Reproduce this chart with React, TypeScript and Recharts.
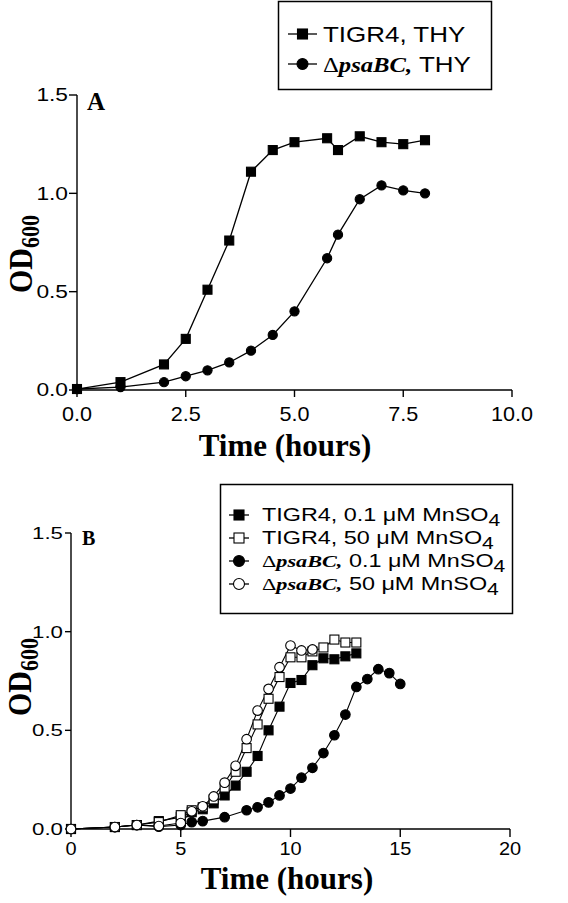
import { LineChart, Line, XAxis, YAxis } from "recharts";

// Panel A: THY medium
const hoursA = [0, 1, 2, 2.5, 3, 3.5, 4, 4.5, 5, 5.75, 6, 6.5, 7, 7.5, 8];
const tigr4Thy = [0.005, 0.04, 0.13, 0.26, 0.51, 0.76, 1.11, 1.22, 1.26, 1.28, 1.22, 1.29, 1.26, 1.25, 1.27];
const psaBCThy = [0.005, 0.015, 0.04, 0.07, 0.1, 0.14, 0.2, 0.28, 0.4, 0.67, 0.79, 0.97, 1.04, 1.015, 1.0];
const ticksAX = [0, 2.5, 5, 7.5, 10];
const ticksAY = [0, 0.5, 1, 1.5];

// Panel B: MnSO4 supplementation
const hoursTigr = [0, 2, 3, 4, 5, 5.5, 6, 6.5, 7, 7.5, 8, 8.5, 9, 9.5, 10, 10.5, 11, 11.5, 12, 12.5, 13];
const tigr4Mn01 = [0, 0.01, 0.02, 0.04, 0.06, 0.085, 0.1, 0.13, 0.17, 0.22, 0.29, 0.37, 0.5, 0.62, 0.74, 0.755, 0.83, 0.865, 0.86, 0.875, 0.89];
const tigr4Mn50 = [0, 0.01, 0.02, 0.035, 0.07, 0.095, 0.11, 0.15, 0.21, 0.29, 0.41, 0.53, 0.66, 0.77, 0.87, 0.87, 0.9, 0.92, 0.96, 0.945, 0.945];
const hoursPsa01 = [0, 2, 3, 4, 5, 5.5, 6, 7, 8, 8.5, 9, 9.5, 10, 10.5, 11, 11.5, 12, 12.5, 13, 13.5, 14, 14.5, 15];
const psaBCMn01 = [0, 0.01, 0.02, 0.012, 0.02, 0.035, 0.04, 0.06, 0.095, 0.11, 0.135, 0.17, 0.205, 0.26, 0.31, 0.385, 0.475, 0.58, 0.72, 0.76, 0.81, 0.79, 0.735];
const hoursPsa50 = [0, 2, 3, 4, 5, 5.5, 6, 6.5, 7, 7.5, 8, 8.5, 9, 9.5, 10, 10.5, 11];
const psaBCMn50 = [0, 0.01, 0.02, 0.015, 0.03, 0.09, 0.115, 0.165, 0.235, 0.32, 0.455, 0.6, 0.71, 0.82, 0.93, 0.905, 0.91];
const ticksBX = [0, 5, 10, 15, 20];
const ticksBY = [0, 0.5, 1, 1.5];

const SANS = "'Liberation Sans', Arial, sans-serif";
const SERIF = "'Liberation Serif', 'Times New Roman', serif";

const dataA = hoursA.map((t, i) => ({ t, tigr: tigr4Thy[i], psa: psaBCThy[i] }));
const toPts = (xs: number[], ys: number[]) => xs.map((t, i) => ({ t, od: ys[i] }));

const squareDot = (size: number, filled: boolean) => (p: any) => {
  if (p.cx == null || p.cy == null) return <g key={p.index} />;
  return (
    <rect
      key={p.index}
      x={p.cx - size / 2}
      y={p.cy - size / 2}
      width={size}
      height={size}
      fill={filled ? "#000" : "#fff"}
      stroke="#000"
      strokeWidth={1.1}
    />
  );
};

const circleDot = (r: number, filled: boolean) => (p: any) => {
  if (p.cx == null || p.cy == null) return <g key={p.index} />;
  return (
    <circle key={p.index} cx={p.cx} cy={p.cy} r={r} fill={filled ? "#000" : "#fff"} stroke="#000" strokeWidth={1.1} />
  );
};

const sansTick = (fontSize: number, sx: number, dy: string, digits: number) => (p: any) => (
  <text
    transform={`translate(${p.x},${p.y}) scale(${sx},1)`}
    textAnchor={p.textAnchor}
    dy={dy}
    fontSize={fontSize}
    fontFamily={SANS}
    fill="#000"
  >
    {Number(p.payload.value).toFixed(digits)}
  </text>
);

// one legend entry drawn in svg: marker on a short line, then the label
function LegendEntry({ cy, x1, x2, textX, kind, filled, size, sx, psa, rest, sub }: any) {
  const c = (x1 + x2) / 2;
  return (
    <g>
      <line x1={x1} x2={x2} y1={cy} y2={cy} stroke="#000" strokeWidth={1.3} />
      {kind === "square" ? (
        <rect x={c - 5} y={cy - 5} width={10} height={10} fill={filled ? "#000" : "#fff"} stroke="#000" strokeWidth={1.1} />
      ) : (
        <circle cx={c} cy={cy} r={5.5} fill={filled ? "#000" : "#fff"} stroke="#000" strokeWidth={1.1} />
      )}
      <text
        transform={`translate(${textX},${cy + size * 0.36}) scale(${sx},1)`}
        fontFamily={SANS}
        fontSize={size}
        fill="#000"
      >
        {psa ? (
          <>
            <tspan fontFamily={SERIF} fontSize={size * 0.95}>Δ</tspan>
            <tspan fontFamily={SERIF} fontSize={size * 0.95} fontWeight="bold" fontStyle="italic">psaBC,</tspan>
          </>
        ) : null}
        <tspan>{rest}</tspan>
        {sub ? (
          <tspan fontSize={size * 0.9} dy={5}>
            {sub}
          </tspan>
        ) : null}
      </text>
    </g>
  );
}

export default function App() {
  return (
    <div style={{ position: "absolute", left: 0, top: 0, width: 568, height: 903, background: "#fff" }}>
      {/* Panel A */}
      <div style={{ position: "absolute", left: 0, top: 0 }}>
        <LineChart width={568} height={460} data={dataA} margin={{ top: 95, right: 56, bottom: 0, left: 17 }}>
          <XAxis
            type="number"
            dataKey="t"
            domain={[0, 10]}
            ticks={ticksAX}
            height={70}
            tickSize={7}
            tickMargin={10}
            stroke="#000"
            strokeWidth={1.4}
            tick={sansTick(20, 1.08, "0.71em", 1)}
          />
          <YAxis
            type="number"
            domain={[0, 1.5]}
            ticks={ticksAY}
            width={60}
            tickSize={8}
            tickMargin={1}
            stroke="#000"
            strokeWidth={1.4}
            tick={sansTick(17.5, 1.3, "0.36em", 1)}
          />
          <Line dataKey="tigr" stroke="#000" strokeWidth={1.3} dot={squareDot(9, true)} isAnimationActive={false} />
          <Line dataKey="psa" stroke="#000" strokeWidth={1.3} dot={circleDot(4.6, true)} isAnimationActive={false} />
        </LineChart>
      </div>

      {/* Panel B */}
      <div style={{ position: "absolute", left: 0, top: 460 }}>
        <LineChart width={568} height={443} margin={{ top: 73, right: 58, bottom: 0, left: 11 }}>
          <XAxis
            type="number"
            dataKey="t"
            domain={[0, 20]}
            ticks={ticksBX}
            height={74}
            tickSize={8}
            tickMargin={4}
            stroke="#000"
            strokeWidth={1.4}
            tick={sansTick(19, 1.05, "0.71em", 0)}
            allowDuplicatedCategory={false}
          />
          <YAxis
            type="number"
            dataKey="od"
            domain={[0, 1.5]}
            ticks={ticksBY}
            width={60}
            tickSize={6}
            tickMargin={2}
            stroke="#000"
            strokeWidth={1.4}
            tick={sansTick(16.5, 1.35, "0.36em", 1)}
          />
          <Line data={toPts(hoursTigr, tigr4Mn01)} dataKey="od" stroke="#000" strokeWidth={1.1} dot={squareDot(9, true)} isAnimationActive={false} />
          <Line data={toPts(hoursPsa01, psaBCMn01)} dataKey="od" stroke="#000" strokeWidth={1.1} dot={circleDot(4.8, true)} isAnimationActive={false} />
          <Line data={toPts(hoursTigr, tigr4Mn50)} dataKey="od" stroke="#000" strokeWidth={1.1} dot={squareDot(9, false)} isAnimationActive={false} />
          <Line data={toPts(hoursPsa50, psaBCMn50)} dataKey="od" stroke="#000" strokeWidth={1.1} dot={circleDot(4.8, false)} isAnimationActive={false} />
        </LineChart>
      </div>

      {/* titles, axis labels and legends */}
      <svg width={568} height={903} style={{ position: "absolute", left: 0, top: 0, pointerEvents: "none" }}>
        <text x={87} y={110} fontFamily={SERIF} fontWeight="bold" fontSize={25} fill="#000">A</text>
        <text x={82} y={545} fontFamily={SERIF} fontWeight="bold" fontSize={20} fill="#000">B</text>
        <text x={285} y={456} textAnchor="middle" fontFamily={SERIF} fontWeight="bold" fontSize={31} fill="#000">
          Time (hours)
        </text>
        <text x={287} y={889} textAnchor="middle" fontFamily={SERIF} fontWeight="bold" fontSize={31} fill="#000">
          Time (hours)
        </text>
        <text transform="translate(32,254) rotate(-90) scale(1,1.15)" textAnchor="middle" fontFamily={SERIF} fontWeight="bold" fontSize={30} fill="#000">
          OD<tspan fontSize={22} dy={6}>600</tspan>
        </text>
        <text transform="translate(31,677) rotate(-90) scale(1,1.15)" textAnchor="middle" fontFamily={SERIF} fontWeight="bold" fontSize={30} fill="#000">
          OD<tspan fontSize={22} dy={6}>600</tspan>
        </text>

        {/* legend A */}
        <rect x={278.5} y={1.5} width={213} height={88} fill="none" stroke="#000" strokeWidth={1.5} />
        <LegendEntry cy={34} x1={288} x2={317} textX={323} kind="square" filled size={22} sx={1.18} rest="TIGR4, THY" />
        <LegendEntry cy={64} x1={288} x2={317} textX={323} kind="circle" filled size={22} sx={1.18} psa rest=" THY" />

        {/* legend B */}
        <rect x={220.5} y={484.5} width={292} height={129} fill="none" stroke="#000" strokeWidth={1.5} />
        <LegendEntry cy={515} x1={229} x2={249} textX={262} kind="square" filled size={18} sx={1.3} rest="TIGR4, 0.1 μM MnSO" sub="4" />
        <LegendEntry cy={538} x1={229} x2={249} textX={262} kind="square" filled={false} size={18} sx={1.3} rest="TIGR4, 50 μM MnSO" sub="4" />
        <LegendEntry cy={561} x1={229} x2={249} textX={262} kind="circle" filled size={18} sx={1.3} psa rest=" 0.1 μM MnSO" sub="4" />
        <LegendEntry cy={584} x1={229} x2={249} textX={262} kind="circle" filled={false} size={18} sx={1.3} psa rest=" 50 μM MnSO" sub="4" />
      </svg>
    </div>
  );
}
